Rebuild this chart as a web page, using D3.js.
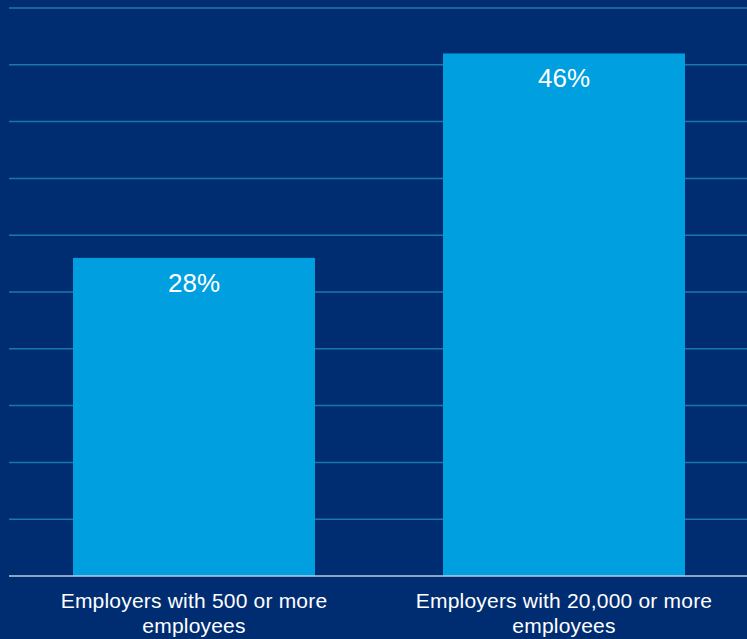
<!DOCTYPE html>
<html>
<head>
<meta charset="utf-8">
<script src="https://cdn.jsdelivr.net/npm/d3@7"></script>
<style>
  html, body { margin: 0; padding: 0; background: #002d72; }
  svg { display: block; }
</style>
</head>
<body>
<script>
const categories = [
  ["Employers with 500 or more", "employees"],
  ["Employers with 20,000 or more", "employees"]
];
const categoryKeys = ["500+", "20000+"];
const values = [28, 46];
const valueLabels = ["28%", "46%"];
const gridTicks = [5, 10, 15, 20, 25, 30, 35, 40, 45, 50];

const W = 747, H = 639;
const svg = d3.select("body").append("svg").attr("width", W).attr("height", H);
svg.append("rect").attr("width", W).attr("height", H).attr("fill", "#002d72");

const x = d3.scaleBand().domain(categoryKeys).range([9, 749])
  .paddingInner(0.346).paddingOuter(0.173);
const y = d3.scaleLinear().domain([0, 50]).range([576, 8]);

// gridlines
svg.append("g").selectAll("line").data(gridTicks).join("line")
  .attr("x1", 9).attr("x2", W)
  .attr("y1", d => y(d)).attr("y2", d => y(d))
  .attr("stroke", "#1a78aa").attr("stroke-width", 1.5);

// bars
svg.append("g").selectAll("rect").data(values).join("rect")
  .attr("x", (d, i) => x(categoryKeys[i]))
  .attr("width", x.bandwidth())
  .attr("y", d => y(d))
  .attr("height", d => y(0) - y(d))
  .attr("fill", "#009fe0");

// baseline
svg.append("line").attr("x1", 9).attr("x2", W)
  .attr("y1", y(0)).attr("y2", y(0))
  .attr("stroke", "#b4cdea").attr("stroke-width", 1.5);

// value labels
svg.append("g").selectAll("text").data(values).join("text")
  .attr("x", (d, i) => x(categoryKeys[i]) + x.bandwidth() / 2)
  .attr("y", d => y(d) + 34)
  .attr("text-anchor", "middle")
  .attr("fill", "#ffffff")
  .attr("font-family", "Liberation Sans, Arial, sans-serif")
  .attr("font-size", 26)
  .text((d, i) => valueLabels[i]);

// category labels
const cl = svg.append("g").selectAll("text").data(categories).join("text")
  .attr("x", (d, i) => x(categoryKeys[i]) + x.bandwidth() / 2)
  .attr("y", 608)
  .attr("text-anchor", "middle")
  .attr("fill", "#ffffff")
  .attr("font-family", "Liberation Sans, Arial, sans-serif")
  .attr("font-size", 21)
  .attr("letter-spacing", 0.2);
cl.selectAll("tspan").data(d => d).join("tspan")
  .attr("x", function() { return d3.select(this.parentNode).attr("x"); })
  .attr("dy", (d, j) => j === 0 ? 0 : 25)
  .text(d => d);
</script>
</body>
</html>
